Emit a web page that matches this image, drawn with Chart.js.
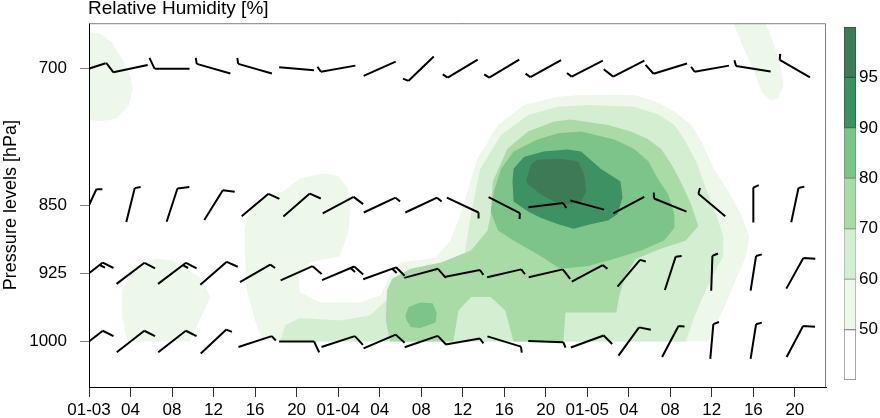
<!DOCTYPE html>
<html>
<head>
<meta charset="utf-8">
<title>Relative Humidity</title>
<script src="https://cdn.jsdelivr.net/npm/chart.js@4.4.0/dist/chart.umd.min.js"></script>
<style>
  body { margin: 0; background: #fff; }
  #wrap { position: relative; width: 880px; height: 418px; }
  #rhChart { position: absolute; left: 0; top: 0; }
  #barChart { position: absolute; left: 830px; top: 0; }
</style>
</head>
<body>
<div id="wrap">
  <canvas id="rhChart" width="880" height="418"></canvas>
  <canvas id="barChart" width="50" height="418"></canvas>
</div>
<script>
// axis ticks
var hourTicks = [0, 4, 8, 12, 16, 20, 24, 28, 32, 36, 40, 44, 48, 52, 56, 60, 64, 68];
var hourLabels = ["01-03", "04", "08", "12", "16", "20", "01-04", "04", "08", "12", "16", "20",
                  "01-05", "04", "08", "12", "16", "20"];
var pressureTicks = [700, 850, 925, 1000];

// wind at each level: direction it blows from (deg) and speed (kt), one per hour tick
var dir700 = [252, 258, 270, 286, 286, 275, 260, 246, 226, 239, 239, 241, 243, 243, 253, 260, 279, 300];
var spd700 = [10, 10, 10, 5, 5, 2, 5, 2, 5, 5, 5, 5, 5, 10, 10, 5, 5, 5];
var dir850 = [25, 14, 18, 32, 50, 49, 62, 65, 65, 115, 117, 83, 105, 62, 292, 310, 0, 12];
var spd850 = [5, 5, 10, 10, 10, 10, 10, 5, 5, 5, 5, 5, 2, 2, 5, 5, 5, 5];
var dir925 = [52, 53, 53, 49, 60, 66, 67, 70, 75, 79, 77, 77, 62, 40, 18, 2, 9, 29];
var spd925 = [15, 10, 15, 10, 5, 10, 15, 15, 10, 5, 5, 10, 5, 5, 5, 5, 5, 10];
var dir1000 = [52, 52, 52, 47, 72, 90, 72, 67, 71, 80, 107, 92, 70, 36, 28, 5, 9, 28];
var spd1000 = [10, 10, 10, 5, 5, 10, 10, 10, 10, 5, 5, 5, 10, 10, 5, 5, 5, 10];

// relative humidity contour outlines, [hour, hPa]
var rh50TopLeft = [[0, 660], [1.0, 661], [2.2, 671], [3.2, 690], [4.0, 709], [4.2, 723], [3.8, 741],
                   [2.6, 755], [1.0, 758], [0, 756]];
var rh50TopRight = [[62.1, 650], [62.8, 671], [64.0, 701], [64.8, 726], [65.7, 735], [66.3, 733],
                    [66.9, 720], [66.7, 701], [66.0, 674], [65.2, 650]];
var rh50Low = [[3.7, 1000], [9.7, 1000], [11.7, 951], [10.7, 930], [8.1, 911], [6.5, 909],
               [4.2, 919], [3.2, 944], [3.2, 973]];
var rh50Main = [[16.7, 1000], [16.0, 977], [15.2, 944], [15.0, 900], [15.0, 875], [15.8, 849],
                [17.2, 840], [18.7, 835], [20.3, 821], [22.6, 815], [24.0, 818], [24.9, 831],
                [25.2, 853], [25.0, 878], [24.2, 906], [21.3, 913], [20.2, 927], [20.3, 946],
                [22.3, 957], [26.1, 957], [28.1, 949], [29.0, 927], [30.0, 913], [33.4, 908],
                [34.8, 889], [35.8, 860], [37.4, 799], [39.4, 762], [41.9, 740], [45.2, 731],
                [47.4, 729], [52.5, 729], [54.8, 737], [56.4, 747], [58.0, 762], [59.0, 780],
                [60.2, 810], [61.6, 835], [62.8, 860], [63.6, 884], [63.3, 906], [62.5, 927],
                [61.6, 952], [60.6, 977], [59.6, 1000]];
var rh60Main = [[18.4, 1000], [18.9, 982], [20.3, 974], [24.2, 977], [27.1, 971], [28.6, 955],
                [30.0, 931], [33.9, 920], [36.1, 909], [36.8, 860], [37.7, 810], [39.7, 773],
                [42.3, 751], [45.2, 742], [48.1, 740], [52.5, 742], [54.8, 750], [56.4, 762],
                [57.3, 777], [58.5, 802], [59.4, 831], [60.3, 857], [61.1, 884], [61.1, 906],
                [60.1, 927], [59.2, 949], [58.3, 973], [57.5, 1000]];
var rh70Main = [[29.0, 1000], [28.6, 977], [28.7, 944], [29.2, 931], [31.0, 920], [33.9, 913],
                [36.8, 900], [38.4, 878], [38.7, 860], [38.9, 824], [40.3, 788], [42.3, 769],
                [44.8, 758], [46.4, 756], [50.0, 762], [52.2, 769], [53.8, 777], [55.1, 788],
                [56.1, 805], [57.0, 824], [58.0, 849], [58.7, 873], [57.5, 889], [55.1, 898],
                [52.7, 909], [51.7, 927], [51.1, 949], [50.8, 968], [45.9, 968], [45.7, 1000],
                [40.9, 1000], [40.1, 966], [38.7, 951], [36.8, 951], [35.6, 966], [35.1, 1000]];
var rh80Main = [[38.7, 857], [39.0, 835], [39.7, 810], [40.9, 791], [43.2, 778], [45.2, 771],
                [47.4, 769], [50.6, 778], [52.5, 788], [53.9, 802], [54.8, 821], [55.8, 838],
                [56.4, 860], [56.4, 875], [55.4, 889], [53.2, 900], [50.6, 909], [48.1, 917],
                [45.4, 920], [43.5, 906], [40.9, 889], [39.4, 878]];
var rh80Small = [[30.5, 971], [30.8, 962], [31.9, 957], [33.1, 958], [33.5, 969], [33.4, 979],
                 [31.9, 985], [31.0, 984], [30.6, 977]];
var rh90Main = [[40.8, 824], [40.9, 810], [41.9, 797], [43.8, 791], [46.1, 789], [47.4, 791],
                [49.3, 810], [51.2, 824], [51.4, 842], [50.9, 860], [50.0, 867], [48.3, 871],
                [46.7, 876], [45.2, 871], [43.5, 864], [42.3, 857], [40.9, 846]];
var rh95Main = [[42.1, 824], [42.6, 805], [43.2, 800], [45.4, 799], [47.1, 802], [47.7, 816],
                [47.9, 835], [47.4, 846], [46.1, 849], [44.8, 846], [43.5, 838], [42.3, 827]];

var rhLevels = [50, 60, 70, 80, 90, 95];
var rhColors = ["#edf7ea", "#d4eed1", "#a9dba7", "#7cc48a", "#3d9162", "#3f7a56"];
var rhEdges = ["#9aa897", "#a3b5a0", "#86a884", "#5d9a68", "#245f3d", "#2a5a3e"];

var rhShapes = [
    [rh50TopLeft, rh50TopRight, rh50Low, rh50Main],
    [rh60Main],
    [rh70Main],
    [rh80Main, rh80Small],
    [rh90Main],
    [rh95Main]
];

var fontFamily = "'Liberation Sans', Arial, Helvetica, sans-serif";

function windSet(level, dirs, spds) {
    return {
        label: level + " hPa",
        data: hourTicks.map(function (h) { return { x: h, y: level }; }),
        dirs: dirs,
        spds: spds,
        pointRadius: 0,
        pointHoverRadius: 0,
        showLine: false
    };
}

function drawBarb(ctx, cx, cy, dirDeg, spd) {
    var a = dirDeg * Math.PI / 180;
    var ux = Math.sin(a), uy = -Math.cos(a);
    var half = 17.5;
    var tx = cx + ux * half, ty = cy + uy * half;
    ctx.beginPath();
    ctx.moveTo(cx - ux * half, cy - uy * half);
    ctx.lineTo(tx, ty);
    // feathers lean out from the tip, on the clockwise side
    var px = -uy, py = ux;
    var ang = 65 * Math.PI / 180;
    var fx = Math.cos(ang) * ux + Math.sin(ang) * px;
    var fy = Math.cos(ang) * uy + Math.sin(ang) * py;
    var full = Math.floor(spd / 10), halfs = Math.floor((spd % 10) / 5);
    var pos = 0;
    for (var i = 0; i < full; i++) {
        var sx = tx - ux * pos, sy = ty - uy * pos;
        ctx.moveTo(sx, sy);
        ctx.lineTo(sx + fx * 12, sy + fy * 12);
        pos += 4;
    }
    if (halfs) {
        var hx = tx - ux * pos, hy = ty - uy * pos;
        ctx.moveTo(hx, hy);
        ctx.lineTo(hx + fx * 6, hy + fy * 6);
    }
    ctx.stroke();
}

var contourPlugin = {
    id: "contours",
    beforeDraw: function (chart) {
        var ctx = chart.ctx, area = chart.chartArea;
        var xs = chart.scales.x, ys = chart.scales.y;
        ctx.save();
        ctx.beginPath();
        ctx.rect(area.left, area.top, area.right - area.left, area.bottom - area.top);
        ctx.clip();
        rhShapes.forEach(function (shapes, k) {
            ctx.fillStyle = rhColors[k];
            shapes.forEach(function (shape) {
                ctx.beginPath();
                shape.forEach(function (p, n) {
                    var x = xs.getPixelForValue(p[0]), y = ys.getPixelForValue(p[1]);
                    if (n === 0) ctx.moveTo(x, y); else ctx.lineTo(x, y);
                });
                ctx.closePath();
                ctx.fill();
            });
        });
        ctx.restore();
    }
};

var barbPlugin = {
    id: "barbs",
    afterDatasetsDraw: function (chart) {
        var ctx = chart.ctx, area = chart.chartArea;
        ctx.save();
        ctx.beginPath();
        ctx.rect(area.left, area.top, area.right - area.left, area.bottom - area.top);
        ctx.clip();
        ctx.strokeStyle = "#000";
        ctx.lineWidth = 2;
        chart.data.datasets.forEach(function (ds, i) {
            chart.getDatasetMeta(i).data.forEach(function (pt, j) {
                drawBarb(ctx, pt.x, pt.y, ds.dirs[j], ds.spds[j]);
            });
        });
        ctx.restore();
    },
    afterDraw: function (chart) {
        var ctx = chart.ctx, area = chart.chartArea;
        ctx.save();
        // grey frame on top and right
        ctx.strokeStyle = "#808080";
        ctx.lineWidth = 1;
        ctx.beginPath();
        ctx.moveTo(area.left, area.top + 0.5);
        ctx.lineTo(area.right - 0.5, area.top + 0.5);
        ctx.lineTo(area.right - 0.5, area.bottom);
        ctx.stroke();
        // title
        ctx.fillStyle = "#000";
        ctx.font = "19px " + fontFamily;
        ctx.textAlign = "left";
        ctx.textBaseline = "alphabetic";
        ctx.fillText("Relative Humidity [%]", 88, 14);
        ctx.restore();
    }
};

var rhChart = new Chart(document.getElementById("rhChart"), {
    type: "scatter",
    data: {
        datasets: [
            windSet(700, dir700, spd700),
            windSet(850, dir850, spd850),
            windSet(925, dir925, spd925),
            windSet(1000, dir1000, spd1000)
        ]
    },
    options: {
        responsive: false,
        animation: false,
        events: [],
        layout: { padding: { left: 0, right: 54, top: 20, bottom: 0 } },
        plugins: { legend: { display: false }, tooltip: { enabled: false } },
        scales: {
            x: {
                type: "linear",
                min: 0,
                max: 71,
                afterBuildTicks: function (axis) {
                    axis.ticks = hourTicks.map(function (v) { return { value: v }; });
                },
                afterFit: function (axis) { axis.height = 31; },
                ticks: {
                    autoSkip: false,
                    maxRotation: 0,
                    padding: 3,
                    color: "#000",
                    font: { family: fontFamily, size: 17 },
                    callback: function (v) { return hourLabels[hourTicks.indexOf(v)]; }
                },
                grid: { drawOnChartArea: false, drawTicks: true, tickLength: 10, color: "#333" },
                border: { display: true, color: "#000", width: 1 }
            },
            y: {
                type: "linear",
                reverse: true,
                min: 650,
                max: 1050,
                afterBuildTicks: function (axis) {
                    axis.ticks = pressureTicks.map(function (v) { return { value: v }; });
                },
                afterFit: function (axis) { axis.width = 89; },
                ticks: {
                    padding: 13,
                    color: "#000",
                    font: { family: fontFamily, size: 17 },
                    callback: function (v) { return String(v); }
                },
                title: {
                    display: true,
                    text: "Pressure levels [hPa]",
                    color: "#000",
                    padding: { top: 0, bottom: 0 },
                    font: { family: fontFamily, size: 18 }
                },
                grid: { drawOnChartArea: false, drawTicks: true, tickLength: 9, color: "#808080" },
                border: { display: true, color: "#000", width: 1 }
            }
        }
    },
    plugins: [contourPlugin, barbPlugin]
});

// colour key: one band per level class, white below the first level
var bandColors = ["#ffffff"].concat(rhColors);
var bandEdges = ["#808080"].concat(rhEdges);

var barChart = new Chart(document.getElementById("barChart"), {
    type: "bar",
    data: {
        labels: [""],
        datasets: bandColors.map(function (c, i) {
            return {
                data: [[i, i + 1]],
                backgroundColor: c,
                borderColor: bandEdges[i],
                borderWidth: 1,
                borderSkipped: false,
                grouped: false,
                barPercentage: 1,
                categoryPercentage: 1
            };
        })
    },
    options: {
        responsive: false,
        animation: false,
        events: [],
        layout: { padding: { left: 14, right: 0, top: 27, bottom: 38 } },
        plugins: { legend: { display: false }, tooltip: { enabled: false } },
        scales: {
            x: { display: false },
            y: {
                position: "right",
                min: 0,
                max: 7,
                afterBuildTicks: function (axis) {
                    axis.ticks = rhLevels.map(function (v, i) { return { value: i + 1 }; });
                },
                afterFit: function (axis) { axis.width = 24; },
                ticks: {
                    padding: 3,
                    color: "#000",
                    font: { family: fontFamily, size: 17 },
                    callback: function (v) { return rhLevels[v - 1]; }
                },
                grid: { display: false, drawTicks: false },
                border: { display: false }
            }
        }
    }
});
</script>
</body>
</html>
